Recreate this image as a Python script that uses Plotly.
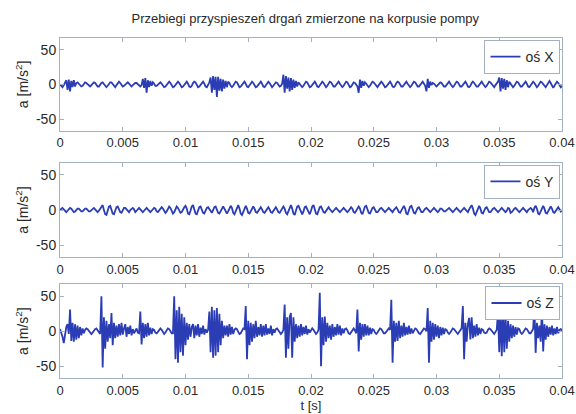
import plotly.graph_objects as go
from plotly.subplots import make_subplots

# ---------------- data ----------------
dt = 0.0001  # sampling step [s]
t_start = 0.0

ax_x = [
    0, -2, -4, -1, 3, 6, -8, 7, -10, 5, -4, 6, -3, 2, 3, 1, -2, -3, -2, 1,
    3, 2, 0, -2, -3, -1, 2, 3, 2, -1, -3, -3, 0, 2, 3, 1, -2, -4, -2, 1,
    3, 3, 0, -3, -4, -1, 2, 4, 2, -1, -3, -2, 0, 2, 3, 1, -2, -3, -1, 1,
    2, 2, 0, -2, -3, -1, 8, -5, 9, -12, 6, -4, 5, -2, 3, 1, -2, -2, 0, 2,
    3, 1, -2, -4, -3, 0, 3, 4, 2, -2, -4, -3, 0, 3, 4, 2, -2, -4, -3, 0,
    3, 4, 1, -3, -4, -2, 2, 4, 3, -1, -4, -3, 0, 3, 4, 1, -3, -4, -1, 3,
    10, -12, 12, -8, 11, -18, 11, -9, 8, -10, 7, -6, 5, -4, 4, 2, -2, -4, -2, 1,
    4, 3, -1, -4, -3, 0, 3, 4, 1, -3, -4, -1, 2, 4, 2, -2, -4, -3, 0, 3,
    4, 1, -3, -4, -1, 2, 4, 2, -2, -4, -2, 1, 3, 2, -1, -3, -2, 1, 14, -12,
    12, -6, 10, -10, 9, -8, 7, -5, 5, -3, 3, 1, -2, -4, -2, 2, 4, 3, -1, -4,
    -3, 0, 3, 4, 1, -3, -4, -1, 2, 4, 2, -2, -4, -2, 1, 4, 3, -1, -3, -3,
    0, 3, 4, 1, -2, -4, -2, 2, 4, 3, -1, -4, -3, 1, 3, 2, -1, -3, -12, 7,
    -5, 5, -2, 3, 1, -2, -4, -2, 1, 4, 3, 0, -3, -4, -1, 2, 4, 2, -1, -4,
    -3, 0, 3, 4, 1, -3, -4, -2, 2, 4, 3, -1, -3, -3, 0, 3, 4, 1, -2, -4,
    -2, 1, 4, 3, -1, -3, -3, 0, 3, 4, 1, -2, -10, 8, -5, 4, -1, 2, 1, -2,
    -3, -1, 2, 3, 2, -1, -3, -3, 0, 3, 4, 1, -2, -4, -2, 2, 4, 3, -1, -3,
    -3, 0, 3, 4, 1, -3, -4, -2, 2, 4, 2, -1, -3, -3, 0, 3, 4, 1, -2, -4,
    -2, 1, 4, 3, 0, -3, -4, -1, 2, 4, 10, -10, 9, -6, 8, -8, 6, -4, 4, 1,
    -2, -4, -2, 2, 4, 3, -1, -3, -3, 0, 3, 4, 1, -3, -4, -1, 2, 4, 2, -2,
    -4, -2, 1, 4, 3, 0, -3, -4, -1, 3, 5, 2, -3, -5, -2, 2, 4, 2, -2, -4,
    -2,
]

ax_y = [
    0, 2, 3, 1, -2, -3, -1, 1, 3, 2, -1, -3, -2, 1, 2, 2, 0, -2, -2, 0,
    2, 2, 0, -2, -2, 0, 2, 3, 1, -2, -3, -1, 2, 6, 7, 0, -6, -7, -1, 5,
    6, 1, -5, -6, 0, 4, 5, 1, -3, -4, 0, 3, 3, 1, -2, -3, 0, 2, 3, 1,
    -3, -1, 2, 3, 1, -2, -3, -1, 2, 3, 1, -2, -3, -1, 2, 3, 2, -2, -3, -1,
    2, 4, 2, -2, -4, -2, 2, 5, 3, -2, -5, -3, 2, 5, 3, -2, -4, -3, 1, 4,
    6, 2, -5, -6, -1, 5, 7, 2, -5, -6, -1, 4, 5, 1, -4, -5, -1, 3, 4, 1,
    -3, -4, 0, 4, 5, 1, -4, -5, -1, 3, 5, 2, -3, -5, -2, 3, 6, 3, -4, -6,
    -1, 5, 7, 2, -5, -7, -2, 4, 6, 2, -4, -5, -1, 3, 5, 2, -3, -4, -1, 3,
    4, 1, -3, -4, -1, 2, 4, 1, -3, -4, -1, 3, 4, 1, -3, -4, -1, 3, 5, 2,
    -4, -6, -1, 5, 7, 2, -5, -7, -1, 5, 6, 1, -4, -6, -2, 4, 5, 1, -4, -6,
    -1, 5, 7, 2, -5, -6, -1, 4, 5, 1, -3, -4, -1, 3, 4, 1, -2, -3, -1, 2,
    3, 1, -2, -3, -1, 2, 3, 1, -2, -3, -1, 2, 4, 2, -3, -4, -1, 3, 5, 2,
    -4, -6, -1, 5, 6, 1, -4, -5, -1, 3, 4, 1, -3, -3, 0, 2, 3, 1, -2, -3,
    -1, 2, 3, 1, -2, -3, 0, 3, 4, 1, -3, -4, 0, 4, 6, 2, -5, -6, -1, 5,
    6, 1, -4, -5, -1, 3, 4, 1, -3, -3, 0, 2, 3, 1, -2, -3, -1, 2, 3, 1,
    -2, -3, -1, 2, 2, 0, -2, -2, 0, 2, 3, 1, -2, -3, -1, 2, 3, 1, -2, -3,
    -1, 2, 3, 1, -2, -3, 1, 5, 7, 2, -5, -7, -2, 4, 6, 2, -4, -5, -1, 3,
    4, 1, -3, -3, 0, 2, 3, 1, -2, -3, -1, 2, 3, 1, -2, -3, -1, 3, 2, -4,
    -3, 0, 2, 3, 1, -2, -3, -1, 2, 3, 1, -2, -3, 0, 2, 3, 1, -3, 3, 6,
    2, -5, -6, -1, 4, 6, 2, -4, -5, -1, 3, 5, 2, -3, -4, -1, 3, 4, 1, -2,
    0,
]

ax_z = [
    3, -2, -8, -17, -5, 6, 10, -4, 31, -14, 12, -15, 10, -12, 8, -10, 6, -6, 4, -3,
    2, 4, 3, 0, -3, -4, -2, 1, 3, 4, 1, -2, -4, 50, -52, 20, -25, 15, -15, 10,
    -10, 26, -20, 12, -10, 8, -8, 10, -6, 12, -5, 4, 10, -8, 6, -4, 8, -6, 3, -3,
    2, 4, -2, -3, 28, -19, 12, -10, 10, -8, 12, -6, 5, -4, 3, 2, -2, -3, -1, 2,
    4, 2, -2, -4, -2, 2, 4, 3, -1, -3, -3, 50, -40, 30, -45, 35, -30, 25, -35, 20,
    -20, 12, -12, 10, -8, 6, 10, -10, 8, -6, 10, -8, 5, -4, 8, -5, 3, -2, 2, 28,
    -30, 35, -38, 30, -35, 33, -30, 25, -20, 15, -10, 8, -6, 8, -8, 10, -5, 6, -4, 2,
    4, 3, -1, -4, -3, 1, 4, 3, 36, -40, 15, -20, 12, -15, 10, -10, 15, -8, 6, -6,
    10, -8, 8, -6, 10, -5, 4, -4, 8, -6, 3, -2, 3, 4, 1, -3, -4, -2, 2, 38,
    -38, 20, -25, 20, 26, -38, 20, -15, 10, -10, 8, -8, 10, -6, 6, -4, 8, -5, 3, -2,
    2, 4, 2, -2, -4, -2, 2, 55, -50, 20, -20, 21, -15, 12, -10, 8, -12, 10, -8, 6,
    -6, 10, -5, 8, -6, 4, -3, 3, 4, 1, -3, -4, -1, 3, 4, 1, -3, 31, -29, 12,
    -12, 10, -8, 10, -6, 8, -6, 5, -4, 3, 2, -2, -4, -2, 2, 4, 3, -1, -3, -3,
    0, 3, 4, 2, 45, -45, 15, -15, 12, -14, 15, -10, 8, -8, 12, -6, 6, -5, 8, -4,
    4, -3, 2, 4, 3, -1, -3, -4, -1, 2, 4, 3, 0, 33, -45, 15, -15, 12, -12, 10,
    -8, 8, -10, 6, -6, 5, -4, 3, 2, -2, -4, -2, 2, 4, 3, 0, -3, -4, -1, 2,
    4, 36, -40, 12, -15, 10, 19, -12, 20, -10, 8, -8, 10, -6, 5, -4, 3, 2, -2, -3,
    -2, 2, 4, 3, 0, -3, -4, -1, 2, 28, -30, 33, -36, 30, -30, 25, -25, 15, -15, 10,
    -10, 8, -8, 6, -5, 4, 3, -2, -4, -2, 2, 4, 3, -1, -3, -3, 0, 3, 36, -31,
    12, -10, 8, -15, 33, -29, 10, -12, 8, -8, 6, -5, 8, -6, 4, -4, 6, -3, 2, 3,
    0,
]

series_names = ["oś X", "oś Y", "oś Z"]
x_tickvals = [0, 0.005, 0.01, 0.015, 0.02, 0.025, 0.03, 0.035, 0.04]
x_ticktext = ["0", "0.005", "0.01", "0.015", "0.02", "0.025", "0.03", "0.035", "0.04"]
y_tickvals = [-50, 0, 50]
y_ticktext = ["-50", "0", "50"]

title_text = "Przebiegi przyspieszeń drgań zmierzone na korpusie pompy"
y_title = "a [m/s<sup>2</sup>]"
x_title = "t [s]"

# ---------------- figure ----------------
FONT = "Liberation Sans, Arial, sans-serif"
LINE_COLOR = "#2b3db4"
AXIS_COLOR = "#a3b2c2"
TEXT_COLOR = "#2a2a2a"

fig = make_subplots(rows=3, cols=1, shared_xaxes=False, vertical_spacing=0.08)

domains = [[0.727, 1.0], [0.355, 0.633], [0.0, 0.2754]]
legend_keys = ["legend", "legend2", "legend3"]

for i, vals in enumerate([ax_x, ax_y, ax_z]):
    fig.add_trace(
        go.Scatter(
            y=vals, x0=t_start, dx=dt, mode="lines",
            line=dict(color=LINE_COLOR, width=1.8),
            name=series_names[i], legend=legend_keys[i], showlegend=True,
        ),
        row=i + 1, col=1,
    )

for i in range(3):
    xa = "xaxis" if i == 0 else f"xaxis{i+1}"
    ya = "yaxis" if i == 0 else f"yaxis{i+1}"
    fig.layout[xa].update(
        range=[0, 0.04], tickvals=x_tickvals, ticktext=x_ticktext,
        showline=True, linecolor=AXIS_COLOR, linewidth=1, mirror="ticks",
        ticks="inside", ticklen=4, tickcolor=AXIS_COLOR,
        showgrid=False, zeroline=False, ticklabeloverflow="allow",
        tickfont=dict(family=FONT, size=13, color=TEXT_COLOR),
    )
    fig.layout[ya].update(
        domain=domains[i], range=[-67, 67],
        tickvals=y_tickvals, ticktext=y_ticktext,
        showline=True, linecolor=AXIS_COLOR, linewidth=1, mirror="ticks",
        ticks="inside", ticklen=4, tickcolor=AXIS_COLOR,
        showgrid=False, zeroline=False,
        tickfont=dict(family=FONT, size=14, color=TEXT_COLOR),
        title=dict(text=y_title, font=dict(family=FONT, size=14, color=TEXT_COLOR), standoff=4),
    )

fig.layout.xaxis3.title = dict(text=x_title, font=dict(family=FONT, size=13, color=TEXT_COLOR), standoff=4)

for i, key in enumerate(legend_keys):
    fig.layout[key] = dict(
        x=0.997, xanchor="right", y=domains[i][1] - 0.006, yanchor="top",
        xref="paper", yref="paper",
        bgcolor="white", bordercolor=AXIS_COLOR, borderwidth=1,
        font=dict(family=FONT, size=14, color=TEXT_COLOR),
        itemwidth=30, tracegroupgap=0,
    )

fig.update_layout(
    width=576, height=414,
    margin=dict(l=60, r=14, t=38, b=36, autoexpand=False),
    paper_bgcolor="white", plot_bgcolor="white",
    title=dict(text=title_text, x=0.53, xanchor="center", y=0.955, yanchor="middle",
               font=dict(family=FONT, size=13, color=TEXT_COLOR)),
    showlegend=True,
)

fig.write_html("out.html", config={"displayModeBar": False},
               post_script="document.body.style.margin='0';")
